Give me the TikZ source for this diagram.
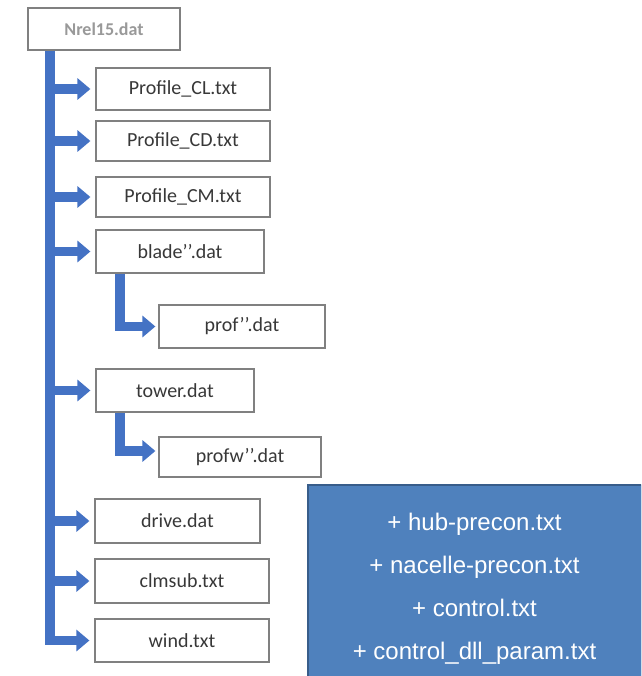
\documentclass[tikz,border=0pt]{standalone}
\usepackage{fontspec}
\newfontfamily\boxfont{Carlito}
\newfontfamily\panelfont{Liberation Sans}
\usetikzlibrary{arrows.meta}
\definecolor{flowblue}{RGB}{68,114,196}
\definecolor{panelfill}{RGB}{79,129,189}
\definecolor{paneledge}{RGB}{56,93,138}

\begin{document}
\begin{tikzpicture}[x=1pt,y=-1pt,
  file/.style={draw=black!50, line width=1.2pt, fill=white,
    font=\boxfont\fontsize{20}{24}\selectfont, text=black!78, inner sep=0pt},
  rootfile/.style={file, font=\boxfont\bfseries\fontsize{18}{22}\selectfont, text=black!40},
  flow/.style={draw=flowblue, line width=9.5pt, line join=miter,
    -{Triangle[width=21pt,length=13pt]}, shorten >=5pt},
  subflow/.style={flow, shorten >=3pt},
  panel/.style={draw=paneledge, line width=1.5pt, fill=panelfill}]

\clip (0,0) rectangle (641,676);
\useasboundingbox (0,0) rectangle (641,676);

% root file
\node[rootfile, minimum width=152pt, minimum height=42pt] (nrel) at (104,29) {Nrel15.dat};

% files read from the root file
\node[file, minimum width=174pt, minimum height=42pt] (cl)     at (183,89)    {Profile\_CL.txt};
\node[file, minimum width=174pt, minimum height=40pt] (cd)     at (183,141)   {Profile\_CD.txt};
\node[file, minimum width=174pt, minimum height=40pt] (cm)     at (183,197)   {Profile\_CM.txt};
\node[file, minimum width=168pt, minimum height=43pt] (blade)  at (180,251.5) {blade’’.dat};
\node[file, minimum width=166pt, minimum height=43pt] (prof)   at (242,326.5) {prof’’.dat};
\node[file, minimum width=158pt, minimum height=43pt] (tower)  at (175,390.5) {tower.dat};
\node[file, minimum width=162pt, minimum height=40pt] (profw)  at (240,457)   {profw’’.dat};
\node[file, minimum width=165pt, minimum height=44pt] (drive)  at (177.5,521) {drive.dat};
\node[file, minimum width=174pt, minimum height=44pt] (clmsub) at (182,581)   {clmsub.txt};
\node[file, minimum width=174pt, minimum height=43pt] (wind)   at (182,640.5) {wind.txt};

% trunk and branches
\coordinate (tr) at ([xshift=22.5pt]nrel.south west);
\draw[flow] (tr) |- (wind.west);
\foreach \f in {cl,cd,cm,blade,tower,drive,clmsub}
  \draw[flow] (tr |- \f.west) -- (\f.west);
\draw[subflow] ([xshift=24.5pt]blade.south west) |- (prof.west);
\draw[subflow] ([xshift=24.5pt]tower.south west) |- ([yshift=6pt]profw.west);

% additional files
\node[panel, minimum width=334pt, minimum height=192pt, inner sep=0pt] (extra) at (475,581) {};
\node[text=white, align=center, inner sep=0pt,
      font=\panelfont\fontsize{24}{43}\selectfont] (extralist) at (474.5,589)
  {+ hub-precon.txt\\+ nacelle-precon.txt\\+ control.txt\\+ control\_dll\_param.txt};
\end{tikzpicture}
\end{document}
